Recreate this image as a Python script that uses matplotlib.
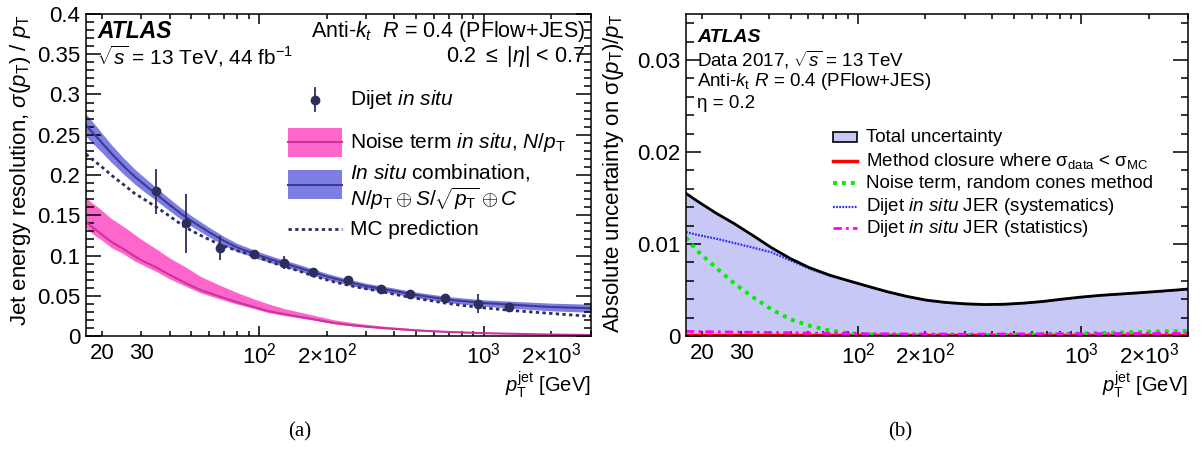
import numpy as np
import matplotlib
matplotlib.use('Agg')
import matplotlib.pyplot as plt
from matplotlib import ticker
from matplotlib.patches import Rectangle

plt.rcParams['font.family'] = ['Liberation Sans', 'DejaVu Sans']
plt.rcParams['mathtext.fontset'] = 'custom'
plt.rcParams['mathtext.rm'] = 'Liberation Sans'
plt.rcParams['mathtext.it'] = 'Liberation Sans:italic'
plt.rcParams['mathtext.bf'] = 'Liberation Sans:bold'
plt.rcParams['mathtext.sf'] = 'Liberation Sans'

# ---- panel (a): resolution ----
dijet_pt = [34.8, 47.2, 67.1, 94.7, 129, 174, 250, 348, 471, 670, 942, 1290]
dijet_res = [0.180, 0.140, 0.109, 0.102, 0.091, 0.079, 0.069, 0.058, 0.052, 0.047, 0.040, 0.036]
dijet_err = [0.028, 0.037, 0.015, 0.003, 0.008, 0.003, 0.003, 0.002, 0.002, 0.002, 0.012, 0.002]

comb_pt = [17, 18, 19, 20, 22, 25, 28, 30, 35, 40, 45, 50, 60, 70, 80, 100, 120, 150, 200, 250,
           300, 400, 500, 700, 1000, 1500, 2000, 3000]
comb_res = [0.262, 0.254, 0.247, 0.240, 0.227, 0.211, 0.198, 0.191, 0.176, 0.163, 0.152, 0.143,
            0.129, 0.118, 0.110, 0.100, 0.093, 0.085, 0.074, 0.067, 0.062, 0.056, 0.051, 0.045,
            0.041, 0.038, 0.036, 0.0345]
comb_err = [0.014, 0.0135, 0.0128, 0.012, 0.011, 0.010, 0.0093, 0.009, 0.008, 0.0075, 0.007,
            0.0065, 0.006, 0.0055, 0.005, 0.0045, 0.0042, 0.004, 0.0038, 0.0036, 0.0035, 0.0035,
            0.0035, 0.0038, 0.004, 0.0045, 0.0048, 0.005]

mc_pt = [17, 18, 19, 20, 22, 25, 28, 30, 35, 40, 47, 55, 67, 80, 95, 110, 129, 150, 174, 217,
         270, 348, 450, 550, 670, 800, 1000, 1290, 1600, 2000, 2500, 3000]
mc_res = [0.226, 0.220, 0.215, 0.210, 0.200, 0.188, 0.177, 0.172, 0.160, 0.149, 0.135, 0.125,
          0.1135, 0.106, 0.0998, 0.093, 0.0864, 0.081, 0.0748, 0.067, 0.061, 0.0553, 0.049,
          0.045, 0.041, 0.038, 0.035, 0.032, 0.030, 0.028, 0.026, 0.0245]

noise_pt = [17, 18, 19, 20, 22, 25, 28, 30, 35, 40, 47, 55, 67, 80, 95, 110, 130, 150, 174, 217,
            270, 350, 500, 700, 1000, 1500, 2000, 3000]
noise_res = [0.142, 0.136, 0.131, 0.126, 0.117, 0.108, 0.099, 0.094, 0.085, 0.076, 0.066, 0.057,
             0.049, 0.042, 0.036, 0.031, 0.027, 0.024, 0.021, 0.016, 0.0128, 0.010, 0.007, 0.005,
             0.0035, 0.0025, 0.0018, 0.0012]
noise_hi = [0.172, 0.166, 0.161, 0.156, 0.146, 0.136, 0.126, 0.120, 0.108, 0.097, 0.086, 0.074,
            0.063, 0.054, 0.046, 0.040, 0.034, 0.030, 0.026, 0.020, 0.016, 0.0125, 0.0088, 0.0063,
            0.0045, 0.0031, 0.0023, 0.0015]
noise_lo = [0.134, 0.128, 0.123, 0.119, 0.110, 0.102, 0.093, 0.089, 0.080, 0.071, 0.062, 0.0535,
            0.046, 0.0395, 0.034, 0.029, 0.0255, 0.0226, 0.0198, 0.015, 0.012, 0.0094, 0.0066,
            0.0047, 0.0033, 0.0023, 0.0017, 0.0011]

# ---- panel (b): uncertainties ----
unc_pt = [17, 19, 23, 28, 34, 41, 50, 61, 75, 91, 111, 136, 166, 202, 247, 301, 368, 449, 548,
          669, 816, 996, 1216, 1484, 1810, 2209, 3000]
unc_total = [0.0155, 0.0147, 0.0134, 0.0122, 0.0109, 0.0096, 0.0084, 0.0074, 0.0066, 0.0060,
             0.0054, 0.0048, 0.0043, 0.0039, 0.00365, 0.0035, 0.00342, 0.00345, 0.00357,
             0.00375, 0.0040, 0.00423, 0.00442, 0.00456, 0.0047, 0.00485, 0.0051]
unc_syst = [0.0113, 0.0110, 0.0106, 0.0101, 0.0096, 0.0091, 0.0082, 0.0073, 0.00655, 0.00597,
            0.00537, 0.00477, 0.00427, 0.00387, 0.00362, 0.00347, 0.00339, 0.00342, 0.00354,
            0.00372, 0.00397, 0.0042, 0.00439, 0.00453, 0.00467, 0.00482, 0.00507]
unc_noise = [0.0107, 0.0093, 0.0075, 0.0057, 0.0042, 0.0029, 0.0018, 0.0011, 0.0006, 0.0003,
             0.00018, 0.00012, 0.0001, 0.0001, 0.0001, 0.0001, 0.0001, 0.00012, 0.00014, 0.00018,
             0.00022, 0.00027, 0.00033, 0.00038, 0.00043, 0.00048, 0.00055]
stat_pt = [17, 30, 50, 100, 300, 1000, 3000]
unc_stat = [0.0005, 0.00042, 0.00035, 0.00025, 0.0002, 0.00025, 0.0003]
closure_pt = [17, 3000]
unc_closure = [0.00008, 0.00008]

xtick_labels = {20: '20', 30: '30', 100: r'$10^2$', 200: r'$2{\times}10^2$',
                1000: r'$10^3$', 2000: r'$2{\times}10^3$'}

BLUE_BAND = '#7d7de3'
BLUE_LINE = '#3b3b94'
PINK_BAND = '#ff66cc'
PINK_LINE = '#c8349a'
NAVY = '#2d2d5e'
LAVENDER = '#c8c8f6'


def style_axis(ax, ymax, ymajor, yminor):
    ax.set_xscale('log')
    ax.set_xlim(17, 3000)
    ax.set_ylim(0, ymax)
    ax.xaxis.set_major_locator(ticker.FixedLocator([100, 1000]))
    ax.xaxis.set_minor_locator(ticker.LogLocator(base=10, subs=np.arange(2, 10)))

    def fmt(v, pos):
        return xtick_labels.get(int(round(v)), '')
    ax.xaxis.set_major_formatter(ticker.FuncFormatter(fmt))
    ax.xaxis.set_minor_formatter(ticker.FuncFormatter(fmt))
    ax.yaxis.set_major_locator(ticker.MultipleLocator(ymajor))
    ax.yaxis.set_minor_locator(ticker.MultipleLocator(yminor))
    ax.yaxis.set_major_formatter(ticker.FuncFormatter(lambda v, p: '0' if v == 0 else '%g' % v))
    ax.tick_params(axis='both', which='both', direction='in', top=True, right=True,
                   labelsize=16, width=1.1, color='black')
    ax.tick_params(axis='x', which='major', length=7.2, pad=5)
    ax.tick_params(axis='x', which='minor', length=3.6, pad=5)
    ax.tick_params(axis='y', which='major', length=10.8, pad=4)
    ax.tick_params(axis='y', which='minor', length=5.4)
    for s in ax.spines.values():
        s.set_linewidth(1.1)


fig = plt.figure(figsize=(12.04, 4.5), dpi=100)
axL = fig.add_axes([86 / 1204, 114 / 450, 505 / 1204, 322 / 450])
axR = fig.add_axes([686 / 1204, 114 / 450, 502 / 1204, 322 / 450])

# ---------- left ----------
ax = axL
style_axis(ax, 0.4, 0.05, 0.01)
ax.fill_between(noise_pt, noise_lo, noise_hi, color=PINK_BAND, lw=0)
ax.plot(noise_pt, noise_res, color=PINK_LINE, lw=1.5)
ax.fill_between(comb_pt, np.array(comb_res) - np.array(comb_err),
                np.array(comb_res) + np.array(comb_err), color=BLUE_BAND, lw=0)
ax.plot(comb_pt, comb_res, color=BLUE_LINE, lw=1.5)
ax.plot(mc_pt, mc_res, color=NAVY, lw=2, ls=(0, (1.2, 1.2)))
ax.errorbar(dijet_pt, dijet_res, yerr=dijet_err, fmt='o', color=NAVY, ms=6, elinewidth=1.3,
            capsize=0)

ax.set_ylabel(r'Jet energy resolution, $\sigma(p_{\rm T})\ /\ p_{\rm T}$', fontsize=16, loc='top')
ax.yaxis.set_label_coords(-0.105, 1.0)
ax.set_xlabel(r'$p_{\rm T}^{\rm jet}$ [GeV]', fontsize=14.5, loc='right')
ax.xaxis.set_label_coords(1.0, -0.105)

tr = ax.transAxes
ax.text(0.022, 0.947, 'ATLAS', transform=tr, fontsize=16.5, fontweight='bold', style='italic',
        va='center')
ax.text(0.022, 0.868, r'$\sqrt{s}$ = 13 TeV, 44 fb$^{-1}$', transform=tr, fontsize=15,
        va='center')
ax.text(0.988, 0.947, r'Anti-$k_{t}$  $R$ = 0.4 (PFlow+JES)', transform=tr, fontsize=15.5,
        va='center', ha='right')
ax.text(0.988, 0.868, r'0.2 $\leq$ |$\eta$| < 0.7', transform=tr, fontsize=15.5, va='center',
        ha='right')

# legend (a)
kx0, kx1, tx = 0.400, 0.507, 0.523
kxc = (kx0 + kx1) / 2
ax.plot([kxc, kxc], [0.700, 0.770], color=NAVY, lw=1.3, transform=tr, clip_on=False)
ax.plot([kxc], [0.733], 'o', color=NAVY, ms=6, transform=tr, clip_on=False)
ax.text(tx, 0.733, r'Dijet $\it{in\ situ}$', transform=tr, fontsize=15, va='center')
ax.add_patch(Rectangle((kx0, 0.556), kx1 - kx0, 0.090, transform=tr, color=PINK_BAND, lw=0))
ax.plot([kx0, kx1], [0.601, 0.601], color=PINK_LINE, lw=1.5, transform=tr)
ax.text(tx, 0.601, r'Noise term $\it{in\ situ}$, $N/p_{\rm T}$', transform=tr, fontsize=15,
        va='center')
ax.add_patch(Rectangle((kx0, 0.425), kx1 - kx0, 0.091, transform=tr, color=BLUE_BAND, lw=0))
ax.plot([kx0, kx1], [0.470, 0.470], color=BLUE_LINE, lw=1.5, transform=tr)
ax.text(tx, 0.509, r'$\it{In\ situ}$ combination,', transform=tr, fontsize=15, va='center')
ax.text(tx, 0.425, r'$N/p_{\rm T} \oplus S/\sqrt{p_{\rm T}} \oplus C$', transform=tr,
        fontsize=15, va='center')
ax.plot([kx0, kx1], [0.332, 0.332], color=NAVY, lw=2, ls=(0, (1.2, 1.2)), transform=tr)
ax.text(tx, 0.332, 'MC prediction', transform=tr, fontsize=15, va='center')

# ---------- right ----------
ax = axR
style_axis(ax, 0.035, 0.01, 0.002)
ax.fill_between(unc_pt, 0, unc_total, color=LAVENDER, lw=0)
ax.plot(closure_pt, unc_closure, color='#ff0000', lw=2.5)
ax.plot(unc_pt, unc_noise, color='#00ee00', lw=2.8, ls=(0, (1, 1.3)))
ax.plot(stat_pt, unc_stat, color='#ff00ff', lw=2, ls=(0, (3, 1.5, 1, 1.5)))
ax.plot(unc_pt, unc_syst, color='#2a2aff', lw=1.6, ls=(0, (0.8, 0.6)))
ax.plot(unc_pt, unc_total, color='black', lw=2)

ax.set_ylabel(r'Absolute uncertainty on $\mathrm{\sigma}(p_{\rm T})/p_{\rm T}$', fontsize=16,
              loc='top')
ax.yaxis.set_label_coords(-0.12, 1.0)
ax.set_xlabel(r'$p_{\rm T}^{\rm jet}$ [GeV]', fontsize=14.5, loc='right')
ax.xaxis.set_label_coords(1.0, -0.105)

tr = ax.transAxes
ax.text(0.022, 0.927, 'ATLAS', transform=tr, fontsize=14, fontweight='bold', style='italic',
        va='center')
ax.text(0.022, 0.857, r'Data 2017, $\sqrt{s}$ = 13 TeV', transform=tr, fontsize=13.5,
        va='center')
ax.text(0.022, 0.79, r'Anti-$k_{\rm t}$ $R$ = 0.4 (PFlow+JES)', transform=tr, fontsize=13.5,
        va='center')
ax.text(0.022, 0.723, 'η = 0.2', transform=tr, fontsize=13.5, va='center')

# legend (b)
kx0, kx1, tx = 0.292, 0.340, 0.359
rows = [0.618, 0.544, 0.475, 0.401, 0.335]
ax.add_patch(Rectangle((kx0, rows[0] - 0.017), kx1 - kx0, 0.034, transform=tr,
                       facecolor=LAVENDER, edgecolor='black', lw=1.2))
ax.text(tx, rows[0], 'Total uncertainty', transform=tr, fontsize=13.5, va='center')
ax.plot([kx0, kx1], [rows[1]] * 2, color='#ff0000', lw=2.5, transform=tr)
ax.text(tx, rows[1], r'Method closure where $\mathrm{\sigma}_{\rm data}$ < $\mathrm{\sigma}_{\rm MC}$',
        transform=tr, fontsize=13.5, va='center')
ax.plot([kx0, kx1], [rows[2]] * 2, color='#00ee00', lw=2.8, ls=(0, (1, 1.3)), transform=tr)
ax.text(tx, rows[2], 'Noise term, random cones method', transform=tr, fontsize=13.5,
        va='center')
ax.plot([kx0, kx1], [rows[3]] * 2, color='#2a2aff', lw=1.6, ls=(0, (0.8, 0.6)), transform=tr)
ax.text(tx, rows[3], r'Dijet $\it{in\ situ}$ JER (systematics)', transform=tr, fontsize=13.5,
        va='center')
ax.plot([kx0, kx1], [rows[4]] * 2, color='#ff00ff', lw=2, ls=(0, (3, 1.5, 1, 1.5)), transform=tr)
ax.text(tx, rows[4], r'Dijet $\it{in\ situ}$ JER (statistics)', transform=tr, fontsize=13.5,
        va='center')

fig.text(300 / 1204, 1 - 432 / 450, '(a)', fontsize=15, family='Liberation Serif',
         ha='center', va='center')
fig.text(900 / 1204, 1 - 432 / 450, '(b)', fontsize=15, family='Liberation Serif',
         ha='center', va='center')

fig.savefig('out.png', dpi=100)
